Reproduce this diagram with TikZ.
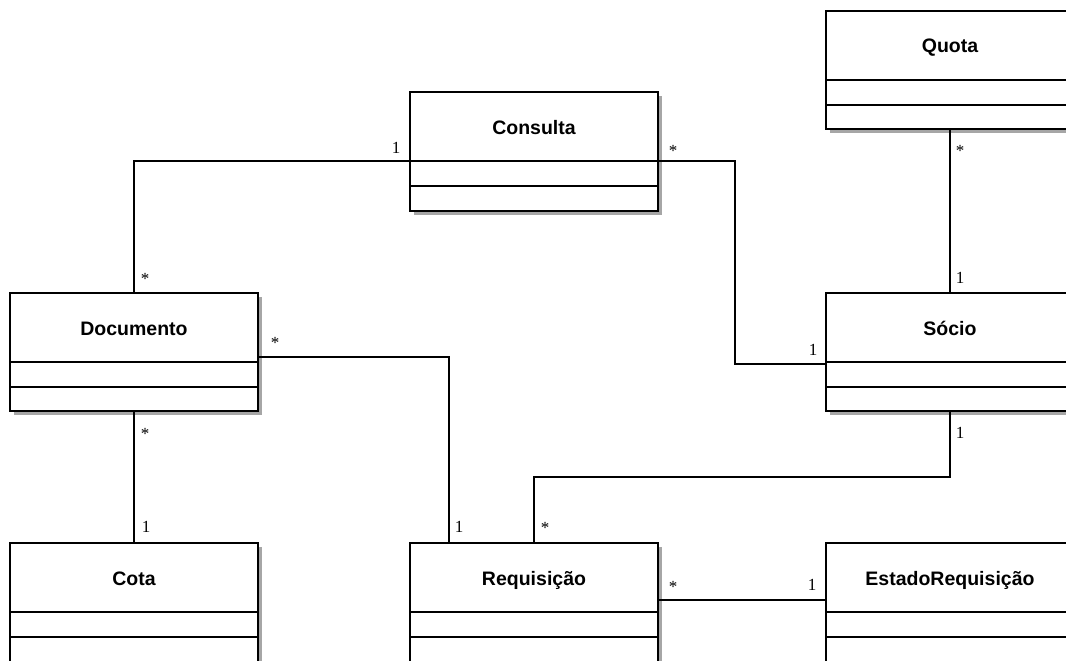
\documentclass[tikz,border=0pt]{standalone}
\usepackage{fontspec}
\setmainfont{Liberation Serif}
\newfontfamily\hdrfont{Liberation Sans}
\usetikzlibrary{shadows,calc}

\begin{document}
\begin{tikzpicture}[x=1pt,y=-1pt,
  cls/.style={draw=black, line width=1.4pt, fill=white, anchor=north west,
    minimum width=248pt, inner sep=0pt, outer sep=0pt,
    drop shadow={shadow xshift=4pt, shadow yshift=-4pt, fill=black, opacity=0.35}},
  hdr/.style={anchor=base, font=\hdrfont\bfseries\fontsize{19.5}{22}\selectfont, inner sep=0pt},
  sepline/.style={line width=1.4pt, draw=black},
  conn/.style={line width=1.2pt, draw=black},
  mult/.style={font=\fontsize{17}{19}\selectfont, inner sep=0pt},
  star/.style={mult, yshift=-3.5pt}]
\useasboundingbox (0,0) rectangle (1066,661);
\fill[white] (0,0) rectangle (1066,661);
\clip (0,0) rectangle (1066,661);

% classes
\node[cls, minimum height=119pt] (consulta) at (410,92) {};
\node[cls, minimum height=118pt] (documento) at (10,293) {};
\node[cls, minimum height=118pt] (quota) at (826,11) {};
\node[cls, minimum height=118pt] (socio) at (826,293) {};
\node[cls, minimum height=130pt] (cota) at (10,543) {};
\node[cls, minimum height=130pt] (requisicao) at (410,543) {};
\node[cls, minimum height=130pt] (estado) at (826,543) {};

\foreach \n in {consulta,documento,quota,socio,cota,requisicao,estado}{
  \draw[sepline] ([yshift=-69pt]\n.north west) -- ([yshift=-69pt]\n.north east);
  \draw[sepline] ([yshift=-94pt]\n.north west) -- ([yshift=-94pt]\n.north east);
}

\node[hdr] (consulta-t) at ($(consulta.north)+(0,42)$) {Consulta};
\node[hdr] (documento-t) at ($(documento.north)+(0,42)$) {Documento};
\node[hdr] (quota-t) at ($(quota.north)+(0,42)$) {Quota};
\node[hdr] (socio-t) at ($(socio.north)+(0,42)$) {Sócio};
\node[hdr] (cota-t) at ($(cota.north)+(0,42)$) {Cota};
\node[hdr] (requisicao-t) at ($(requisicao.north)+(0,42)$) {Requisição};
\node[hdr] (estado-t) at ($(estado.north)+(0,42)$) {EstadoRequisição};

% connectors
\draw[conn] ([yshift=-69pt]consulta.north west) -| (documento.north);
\draw[conn] ([yshift=-69pt]consulta.north east) -- ++(77,0) |- ([yshift=-71pt]socio.north west);
\draw[conn] (quota.south) -- (socio.north);
\draw[conn] (documento.south) -- (cota.north);
\draw[conn] ([yshift=-64pt]documento.north east) -| ([xshift=39pt]requisicao.north west);
\draw[conn] (socio.south) -- ++(0,66) -| (requisicao.north);
\draw[conn] ([yshift=-57pt]requisicao.north east) -- ([yshift=-57pt]estado.north west);

% multiplicities
\node[mult] (m1) at (396,148) {1};
\node[star] (m2) at (145,275) {*};
\node[star] (m3) at (673,147) {*};
\node[mult] (m4) at (813,350) {1};
\node[star] (m5) at (960,147) {*};
\node[mult] (m6) at (960,278) {1};
\node[star] (m7) at (275,339) {*};
\node[mult] (m8) at (459,527) {1};
\node[star] (m9) at (145,430) {*};
\node[mult] (m10) at (146,527) {1};
\node[mult] (m11) at (960,433) {1};
\node[star] (m12) at (545,524) {*};
\node[star] (m13) at (673,583) {*};
\node[mult] (m14) at (812,585) {1};
\end{tikzpicture}
\end{document}
